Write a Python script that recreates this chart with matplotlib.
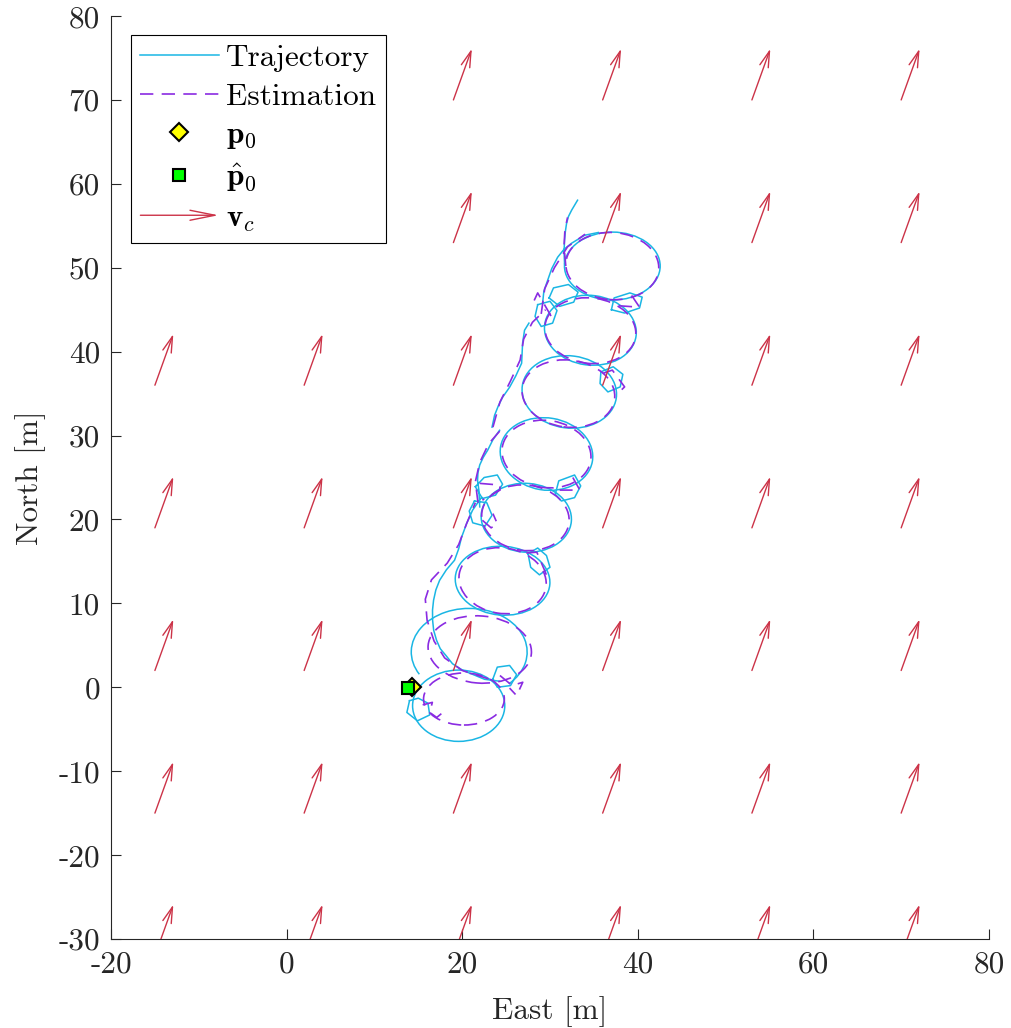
import numpy as np
import matplotlib
matplotlib.use('Agg')
import matplotlib.pyplot as plt
from matplotlib.patches import FancyArrowPatch, Ellipse, Arc
from matplotlib.lines import Line2D
from matplotlib.legend_handler import HandlerPatch

plt.rcParams['font.family'] = 'serif'
plt.rcParams['font.serif'] = ['cmr10']
plt.rcParams['mathtext.fontset'] = 'cm'
plt.rcParams['axes.unicode_minus'] = False
plt.rcParams['font.size'] = 22.5

# ---- trajectory: loops (centre, size, tilt) ----
traj_loop_east = [19.6, 24.6, 27.3, 29.6, 32.2, 34.6, 37.1]
traj_loop_north = [-2.2, 12.7, 20.2, 27.8, 35.2, 42.55, 50.2]
traj_loop_width = [10.5, 10.8, 10.3, 10.6, 10.8, 10.5, 10.9]
traj_loop_height = [8.5, 8.2, 8.2, 8.6, 8.6, 8.3, 8.1]
traj_loop_tilt = [0, -5, -5, -10, -8, -8, 0]
# open loop above the start
traj_arc_centre = (20.8, 4.2)
traj_arc_size = (13.2, 10.4)
traj_arc_span = (-40, 205)

# ---- trajectory: long side arcs and small turning polygons (East, North) ----
traj_arc_a = [(24.26,0.72),(22.55,0.95),(20.05,2.03),(18.9,2.8),(18.22,3.69),(17.5,4.6),(17.08,5.60),
              (16.75,6.8),(16.63,7.99),(16.62,9.2),(16.74,10.37),(17.0,11.6),(17.43,12.75),(18.2,14.0),
              (19.13,15.14),(19.6,16.5),(19.93,17.88),(20.5,19.5),(21.18,21.10),(22.21,22.65)]
traj_arc_b = [(22.0,21.5),(21.9,23.5),(21.75,24.67),(21.8,25.6),(22.0,26.5),(22.4,27.4),(22.9,28.25),
              (23.5,29.5),(24.26,30.63)]
traj_arc_c = [(23.4,31.0),(23.69,32.42),(24.1,33.5),(24.6,34.56),(25.4,35.76),(26.1,37.1),(26.77,38.62),
              (26.88,41.0),(27.1,42.55),(27.6,43.4)]
traj_arc_d = [(29.16,45.77),(29.3,47.2),(29.73,48.5),(30.2,49.9),(30.87,51.25),(31.6,52.2),(32.46,52.92),
              (33.94,53.87),(35.5,54.2)]
traj_end = [(31.66,50.5),(31.6,51.9),(31.66,53.28),(31.75,54.3),(31.89,55.30),(32.1,56.1),(32.46,56.85),
            (33.14,58.05)]
traj_turn1 = [(14.0,-1.6),(13.7,-3.0),(14.9,-4.0),(16.3,-3.3),(16.1,-1.9),(15.0,-1.3),(14.0,-1.6)]
traj_turn2 = [(23.5,1.0),(24.0,2.4),(25.4,2.6),(26.2,1.5),(25.5,0.2),(24.0,0.0),(23.5,1.0)]
traj_turn3 = [(27.5,15.9),(28.6,16.6),(29.6,15.7),(30.0,14.3),(28.8,13.4),(27.8,14.3),(27.5,15.9)]
traj_turn4 = [(21.4,22.2),(22.8,22.0),(23.4,20.5),(22.6,19.2),(21.2,19.6),(20.8,21.0),(21.4,22.2)]
traj_turn5 = [(21.5,23.9),(22.5,25.0),(24.0,25.3),(24.6,24.2),(23.8,22.9),(22.3,22.5),(21.5,23.9)]
traj_turn6 = [(30.6,23.0),(31.0,24.6),(32.8,25.3),(33.5,24.0),(32.8,22.6),(31.3,22.2),(30.6,23.0)]
traj_turn7 = [(35.8,37.6),(37.2,38.2),(38.3,37.3),(38.0,35.8),(36.6,35.2),(35.7,36.2),(35.8,37.6)]
traj_turn8 = [(28.6,45.6),(30.0,46.0),(30.8,44.9),(30.3,43.4),(29.0,43.0),(28.3,44.2),(28.6,45.6)]
traj_turn9 = [(29.9,46.4),(30.4,47.6),(32.1,48.0),(33.2,47.1),(32.7,45.9),(31.1,45.4),(29.9,46.4)]
traj_turn10 = [(37.0,45.0),(37.3,46.4),(39.1,47.0),(40.5,46.5),(40.2,45.2),(38.5,44.6),(37.0,45.0)]

# ---- estimation: loops ----
est_loop_east = [20.2, 22.0, 24.6, 27.2, 29.6, 32.1, 34.6, 37.1]
est_loop_north = [-1.4, 4.5, 12.7, 20.2, 27.8, 35.0, 42.5, 50.2]
est_loop_width = [9.2, 11.8, 10.0, 10.0, 10.2, 10.6, 10.4, 10.6]
est_loop_height = [6.2, 8.0, 7.8, 7.8, 8.0, 8.0, 7.8, 8.0]
est_loop_tilt = [0, -5, -10, -8, -10, -8, -8, -5]

# ---- estimation: side arcs and kinks ----
est_arc_a = [(23.0,1.0),(20.0,2.0),(18.0,3.5),(16.8,5.5),(16.0,8.0),(15.8,10.5),(16.5,12.8),(18.3,14.8),
             (19.6,17.0),(20.5,19.5),(21.5,22.0)]
est_arc_b = [(21.8,22.0),(21.5,24.5),(22.0,26.8),(23.0,29.0),(24.5,30.8)]
est_arc_c = [(23.5,31.0),(24.3,34.0),(25.5,36.5),(26.6,39.0),(27.0,41.5),(28.0,43.5),(29.5,45.0)]
est_arc_d = [(29.0,44.5),(29.4,47.5),(30.5,50.0),(32.0,52.5),(34.0,54.0)]
est_end = [(31.8,50.2),(31.6,52.5),(31.7,54.5),(32.0,56.0)]
est_kink1 = [(15.5,-2.1),(16.6,-1.8),(16.3,-3.0),(17.1,-3.6),(17.8,-3.0)]
est_kink2 = [(24.3,1.4),(25.7,0.2),(26.9,0.6),(26.2,-1.0),(25.4,-0.1)]
est_kink3 = [(27.3,16.0),(28.5,16.1),(29.4,13.9),(29.7,13.1)]
est_kink4 = [(22.3,19.9),(23.3,19.0),(24.0,19.5),(23.5,20.7)]
est_kink5 = [(22.0,24.3),(24.3,24.1),(24.3,23.5),(22.3,22.3)]
est_kink6 = [(32.6,25.0),(33.4,23.5),(31.1,23.5)]
est_kink7 = [(36.0,37.4),(37.1,37.8),(38.5,35.8),(37.7,35.0)]
est_kink8 = [(39.3,46.7),(40.2,45.3),(37.4,45.5)]
est_kink9 = [(28.2,46.1),(28.6,47.0),(30.2,44.1)]

# initial positions
p0 = (14.3, 0.0)
p0_hat = (13.8, -0.1)

# current field
vc_grid_east = [-15, 2, 19, 36, 53, 70]
vc_grid_north = [-32, -15, 2, 19, 36, 53, 70]
vc_east, vc_north = 2.1, 6.1

traj_pieces = [traj_turn1, traj_turn2, traj_arc_a, traj_turn3, traj_turn4, traj_turn5, traj_turn6,
               traj_arc_b, traj_arc_c, traj_turn7, traj_turn8, traj_turn9, traj_turn10, traj_arc_d, traj_end]
est_pieces = [est_kink1, est_kink2, est_arc_a, est_kink3, est_kink4, est_kink5, est_kink6, est_arc_b,
              est_arc_c, est_kink7, est_kink8, est_kink9, est_arc_d, est_end]


def join(pieces):
    e, n = [], []
    for p in pieces:
        e += [q[0] for q in p] + [np.nan]
        n += [q[1] for q in p] + [np.nan]
    return e, n


c_traj = '#1ab6e4'
c_est = '#8a2be2'
c_arrow = '#cc3348'
dark = '#262626'
est_dash = (0, (8, 5))

fig = plt.figure(figsize=(10.11, 10.28), dpi=100)
ax = fig.add_axes([0.1098, 0.0866, 0.8684, 0.8978])

# trajectory
for e, n, w, h, t in zip(traj_loop_east, traj_loop_north, traj_loop_width, traj_loop_height, traj_loop_tilt):
    ax.add_patch(Ellipse((e, n), w, h, angle=t, fill=False, edgecolor=c_traj, lw=1.1, zorder=2))
ax.add_patch(Arc(traj_arc_centre, *traj_arc_size, theta1=traj_arc_span[0], theta2=traj_arc_span[1],
                 edgecolor=c_traj, lw=1.1, zorder=2))
te, tn = join(traj_pieces)
ax.plot(te, tn, color=c_traj, lw=1.1, zorder=2)

# estimation
for e, n, w, h, t in zip(est_loop_east, est_loop_north, est_loop_width, est_loop_height, est_loop_tilt):
    ax.add_patch(Ellipse((e, n), w, h, angle=t, fill=False, edgecolor=c_est, lw=1.2, ls=est_dash, zorder=2))
ee, en = join(est_pieces)
ax.plot(ee, en, color=c_est, lw=1.2, dashes=(8, 5), zorder=2)

# current arrows
arrow_style = '->,head_length=1.15,head_width=0.32'
for x in vc_grid_east:
    for y in vc_grid_north:
        ax.add_patch(FancyArrowPatch((x, y), (x + vc_east, y + vc_north), arrowstyle=arrow_style,
                                     mutation_scale=10, shrinkA=0, shrinkB=0, color=c_arrow,
                                     lw=1.0, zorder=3))

ax.plot(*p0, marker='D', ms=9, mfc='yellow', mec='black', mew=1.5, ls='none', zorder=4)
ax.plot(*p0_hat, marker='s', ms=9, mfc='#00ff00', mec='black', mew=1.5, ls='none', zorder=5)

ax.set_xlim(-20, 80)
ax.set_ylim(-30, 80)
ax.set_xticks(np.arange(-20, 81, 20))
ax.set_yticks(np.arange(-30, 81, 10))
ax.tick_params(direction='in', length=7, width=0.8, colors=dark, labelsize=22.5, pad=8)
for s in ['top', 'right']:
    ax.spines[s].set_visible(False)
for s in ['left', 'bottom']:
    ax.spines[s].set_color(dark)
    ax.spines[s].set_linewidth(0.8)
ax.set_xlabel('East [m]', color=dark, labelpad=13)
ax.set_ylabel('North [m]', color=dark, labelpad=9)


def legend_arrow(legend, orig_handle, xdescent, ydescent, width, height, fontsize):
    return FancyArrowPatch((-xdescent, height / 2 - ydescent), (width - xdescent, height / 2 - ydescent),
                           arrowstyle='->,head_length=1.8,head_width=0.36', mutation_scale=10,
                           shrinkA=0, shrinkB=0)


h_traj = Line2D([], [], color=c_traj, lw=1.1)
h_est = Line2D([], [], color=c_est, lw=1.2, dashes=(8, 5))
h_p0 = Line2D([], [], marker='D', ms=9, mfc='yellow', mec='black', mew=1.5, ls='none')
h_p0h = Line2D([], [], marker='s', ms=9, mfc='#00ff00', mec='black', mew=1.5, ls='none')
h_vc = FancyArrowPatch((0, 0), (1, 0), color=c_arrow, lw=1.0)
leg = ax.legend([h_traj, h_est, h_p0, h_p0h, h_vc],
                ['Trajectory', 'Estimation', r'$\mathbf{p}_0$', r'$\hat{\mathbf{p}}_0$', r'$\mathbf{v}_c$'],
                loc='upper left', bbox_to_anchor=(0.0228, 0.9794), borderaxespad=0,
                handlelength=2.5, handletextpad=0.25, borderpad=0.3, labelspacing=0.33,
                fancybox=False, framealpha=1, edgecolor='black',
                handler_map={FancyArrowPatch: HandlerPatch(patch_func=legend_arrow)})
leg.get_frame().set_linewidth(0.8)

fig.savefig('out.png', dpi=100)
